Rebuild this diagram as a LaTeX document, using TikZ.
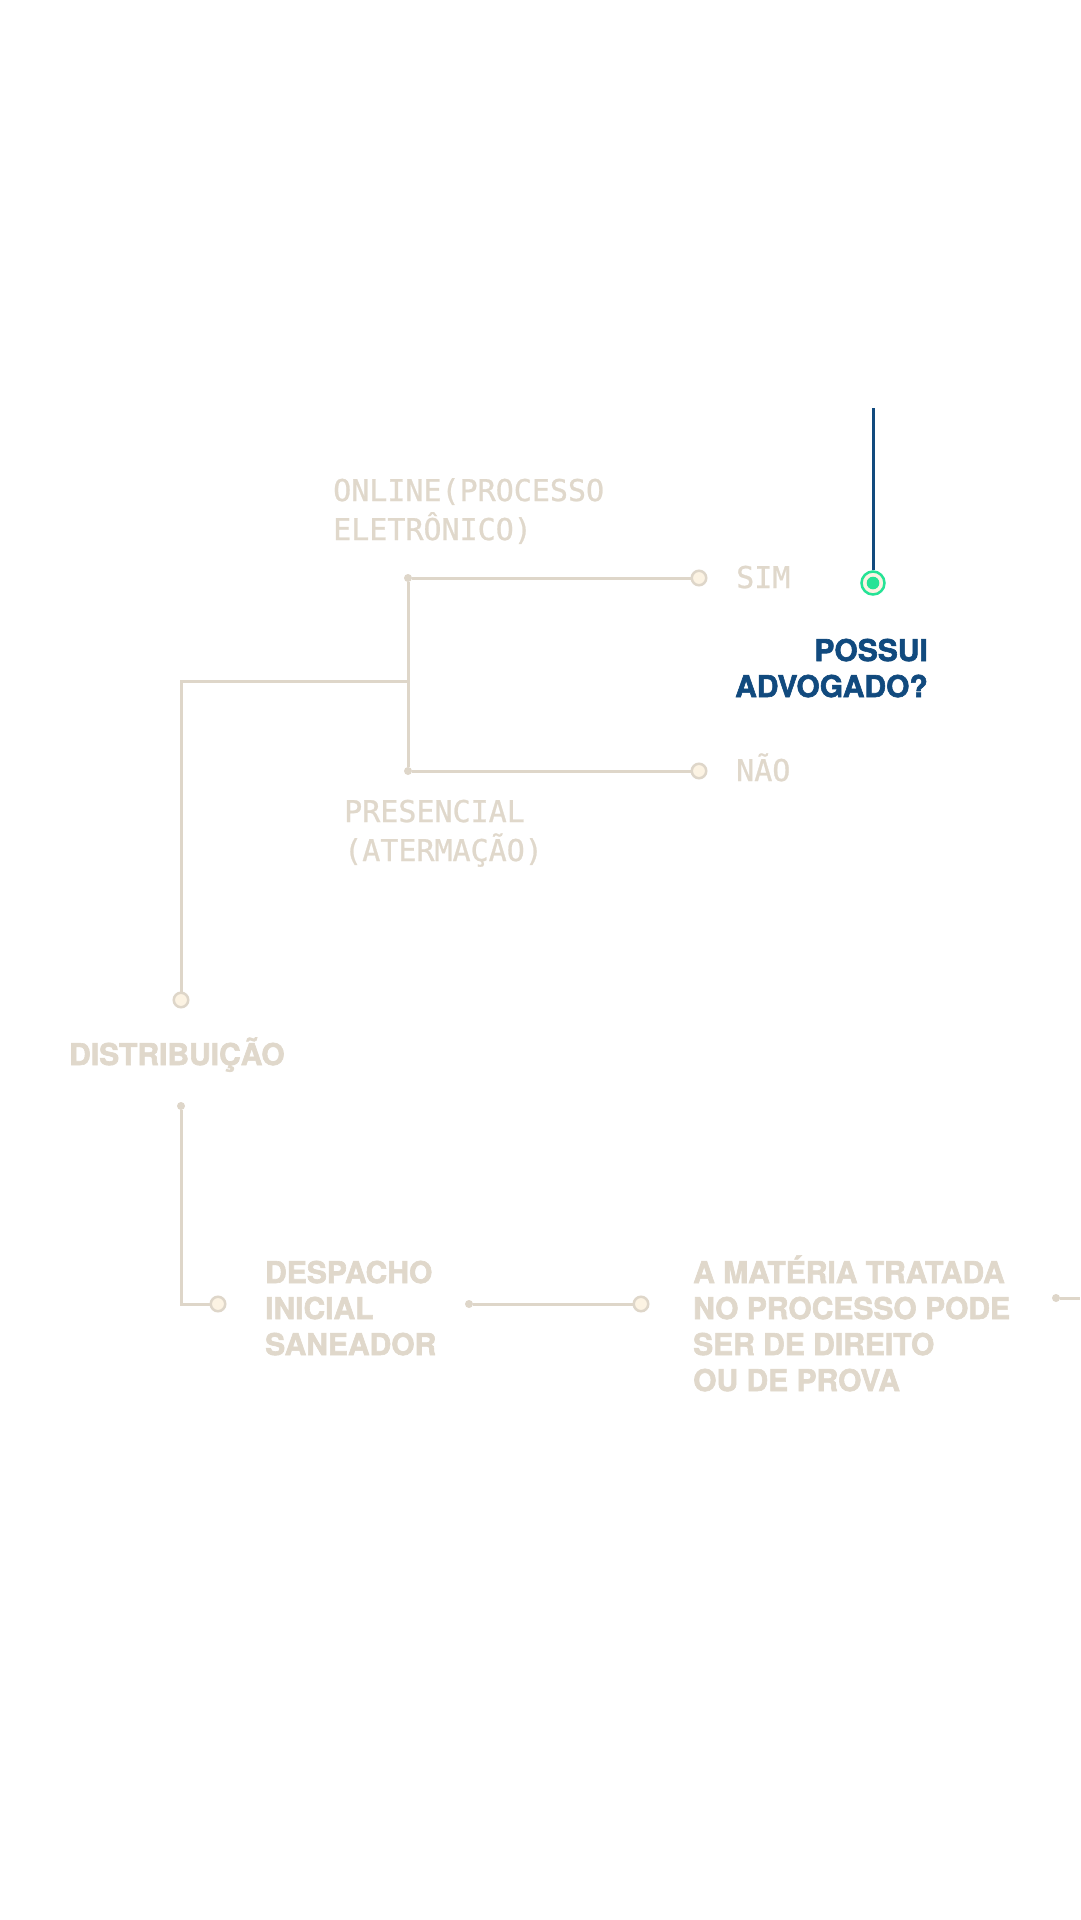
\documentclass[tikz,border=0pt]{standalone}
\usepackage{fontspec}
\newfontfamily\boldsans{TeX Gyre Heros}[BoldFeatures={FakeBold=2}]
\newfontfamily\monof{DejaVu Sans Mono}[FakeBold=0.8]
\definecolor{beige}{HTML}{DED6C9}
\definecolor{beigetxt}{HTML}{E0D8CB}
\definecolor{cream}{HTML}{FCF3E3}
\definecolor{navy}{HTML}{114A7E}
\definecolor{mint}{HTML}{26E396}
\begin{document}
\begin{tikzpicture}[x=1pt,y=-1pt,
  conn/.style={draw=beige,line width=3pt},
  ring/.style={circle,draw=beige,line width=2.5pt,fill=cream,minimum size=14.5pt,inner sep=0pt},
  pin/.style={circle,fill=beige,minimum size=8pt,inner sep=0pt},
  monolabel/.style={inner sep=0pt,anchor=base west,text=beigetxt,font=\monof\fontsize{30}{39}\selectfont},
  boldlabel/.style={inner sep=0pt,anchor=base west,text=beigetxt,font=\boldsans\bfseries\fontsize{30}{36}\selectfont},
  asklabel/.style={inner sep=0pt,anchor=base east,text=navy,font=\boldsans\bfseries\fontsize{30}{36}\selectfont}]
\fill[white] (0,0) rectangle (1080,1920);
\useasboundingbox (0,0) rectangle (1080,1920);

% top branch
\node[pin] (dOn) at (408,578) {};
\node[ring] (cSim) at (699,578) {};
\node[pin] (dPres) at (408,771) {};
\node[ring] (cNao) at (699,771) {};
\coordinate (jn) at (408,681);
\node[ring] (cDist) at (181,1000) {};
\node[pin] (dDist) at (181,1106) {};
\node[ring] (cDesp) at (218,1304) {};
\node[pin] (dDesp) at (469,1304) {};
\node[ring] (cMat) at (641,1304) {};
\node[pin] (dMat) at (1056,1298) {};
\coordinate (edge) at (1080,1298);

\draw[conn] (dOn) -- (cSim);
\draw[conn] (dOn) -- (dPres);
\draw[conn] (dPres) -- (cNao);
\draw[conn] (cDist) |- (jn);
\draw[conn] (dDist) |- (cDesp);
\draw[conn] (dDesp) -- (cMat);
\draw[conn] (dMat) -- (edge);

% blue question
\coordinate (qtop) at (873,408);
\node[circle,draw=mint,line width=2.5pt,fill=cream,minimum size=23pt,inner sep=0pt] (cQ) at (873,583) {};
\node[circle,fill=mint,minimum size=12.6pt,inner sep=0pt] (cQin) at (cQ) {};
\draw[navy,line width=3pt] (qtop) -- (cQ.north);

% labels
\node[monolabel] (tOnline) at (333,501) {\vtop{\baselineskip=39pt\hbox{ONLINE(PROCESSO}\hbox{ELETRÔNICO)}}};
\node[monolabel] (tSim) at (736,588) {SIM};
\node[monolabel] (tNao) at (736,781) {NÃO};
\node[monolabel] (tPres) at (344,822) {\vtop{\baselineskip=39pt\hbox{PRESENCIAL}\hbox{(ATERMAÇÃO)}}};
\node[asklabel] (tAsk) at (928,661) {\vtop{\baselineskip=36pt\halign{\hfil#\cr POSSUI\cr ADVOGADO?\cr}}};
\node[boldlabel] (tDist) at (69,1065) {DISTRIBUIÇÃO};
\node[boldlabel] (tDesp) at (265,1283) {\vtop{\baselineskip=36pt\hbox{DESPACHO}\hbox{INICIAL}\hbox{SANEADOR}}};
\node[boldlabel] (tMat) at (693,1283) {\vtop{\baselineskip=36pt\hbox{A MATÉRIA TRATADA}\hbox{NO PROCESSO PODE}\hbox{SER DE DIREITO}\hbox{OU DE PROVA}}};
\end{tikzpicture}
\end{document}
